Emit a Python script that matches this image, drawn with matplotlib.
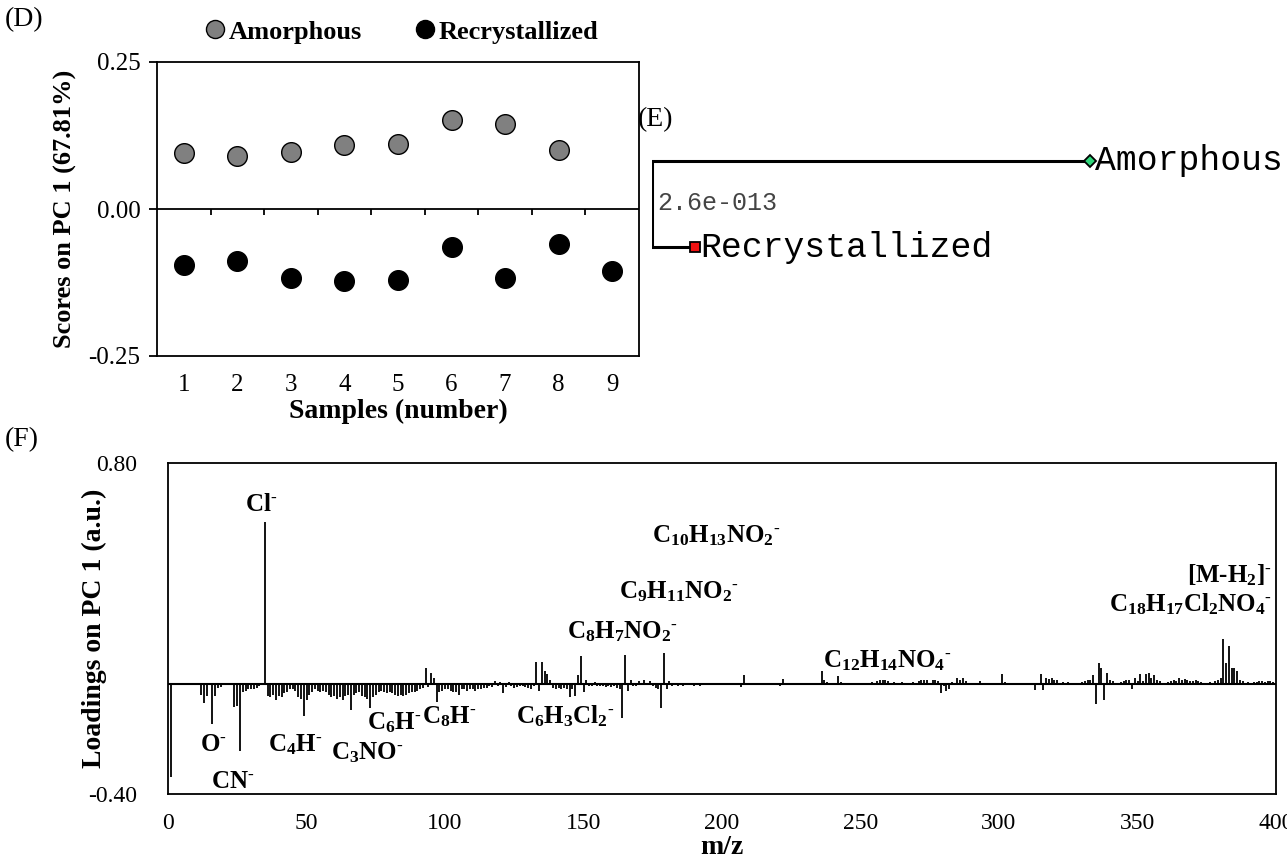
import matplotlib
matplotlib.use("Agg")
import matplotlib.pyplot as plt
from matplotlib.lines import Line2D
import numpy as np

# ---------------- data ----------------
# (D) PC1 scores
samples_amor = [1, 2, 3, 4, 5, 6, 7, 8]
scores_amor = [0.096, 0.090, 0.097, 0.109, 0.110, 0.152, 0.144, 0.101]
samples_recr = [1, 2, 3, 4, 5, 6, 7, 8, 9]
scores_recr = [-0.096, -0.089, -0.117, -0.123, -0.120, -0.065, -0.117, -0.059, -0.106]

# (E) dendrogram
leaf_names = ["Amorphous", "Recrystallized"]
leaf_branch = [1.0, 0.098]
leaf_level = [1, 0]
node_distance = "2.6e-013"

# (F) PC1 loadings, m/z and loading value
mz_low = [1, 12, 13, 14, 16, 17, 18, 19, 24, 25, 26, 27, 28, 29, 30, 31, 32, 33, 35,
          36, 37, 38, 39, 40, 41, 42, 43, 44, 45, 46, 47, 48, 49, 50, 51, 52, 53, 54,
          55, 56, 57, 58, 59, 60, 61, 62, 63, 64, 65, 66]
load_low = [-0.34, -0.04, -0.07, -0.045, -0.145, -0.045, -0.015, -0.012, -0.085, -0.08,
            -0.245, -0.03, -0.025, -0.02, -0.02, -0.02, -0.015, -0.01, 0.585,
            -0.045, -0.05, -0.04, -0.06, -0.045, -0.05, -0.035, -0.03, -0.02, -0.02,
            -0.025, -0.05, -0.055, -0.118, -0.06, -0.04, -0.03, -0.02, -0.025,
            -0.03, -0.025, -0.03, -0.04, -0.05, -0.045, -0.055, -0.05, -0.06, -0.045,
            -0.04, -0.094]

mz_mid = [67, 68, 69, 70, 71, 72, 73, 74, 75, 76, 77, 78, 79, 80, 81, 82, 83, 84, 85,
          86, 87, 88, 89, 90, 91, 92, 93, 94, 95, 96, 97, 98, 99, 100, 101, 102, 103,
          104, 105, 106, 107, 108, 109, 110, 111, 112, 113, 114, 115, 116, 117, 118,
          119, 120, 121, 122, 123, 124, 125, 126, 127, 128, 129, 130, 131, 132, 133,
          134, 135, 136, 137, 138, 139, 140]
load_mid = [-0.04, -0.035, -0.03, -0.045, -0.05, -0.055, -0.09, -0.05, -0.04, -0.03,
            -0.025, -0.03, -0.035, -0.03, -0.035, -0.04, -0.045, -0.04, -0.045,
            -0.04, -0.035, -0.03, -0.03, -0.025, -0.02, -0.015, 0.057, -0.012, 0.04,
            0.02, -0.066, -0.03, -0.025, -0.02, -0.02, -0.025, -0.03,
            -0.03, -0.04, -0.02, -0.02, -0.025, -0.02, -0.02, -0.025, -0.02, -0.02,
            -0.015, -0.015, -0.01, -0.012, 0.008,
            -0.01, 0.006, -0.035, -0.012, 0.006, -0.01, -0.015, -0.012, -0.01, -0.01,
            -0.012, -0.015, -0.02, -0.01, 0.08,
            -0.025, 0.08, 0.045, 0.035, 0.012, -0.015, -0.02]

mz_high = [141, 142, 143, 144, 145, 146, 147, 148, 149, 150, 151, 152, 153, 154, 155,
           156, 157, 158, 159, 160, 161, 162, 163, 164, 165, 166, 167, 168, 169, 170,
           171, 172, 173, 174, 175, 176, 177, 178, 179, 180, 181, 182, 183, 184, 185,
           186, 187, 188, 189, 190, 191, 192, 193, 194, 195, 196, 197, 198, 199, 200,
           202, 204, 206, 207, 208, 210, 212, 214, 216, 218, 220, 221, 222, 224, 226,
           228, 230, 232, 234, 235, 236, 237, 238, 240, 242, 243]
load_high = [-0.015, -0.02, -0.015, -0.02, -0.05, -0.02, -0.045, 0.03, 0.10, -0.03,
             0.015, -0.01, -0.008, 0.006, -0.01,
             -0.008, -0.01, -0.012, -0.01, -0.012, -0.01, -0.015, -0.02, -0.125, 0.105,
             -0.025, 0.015, -0.01, -0.008, 0.01,
             -0.006, 0.012, -0.006, 0.01, -0.008, -0.015, -0.02, -0.088, 0.11, -0.02,
             0.01, -0.008, -0.006, -0.008, -0.006,
             -0.008, -0.006, -0.006, -0.006, -0.008, -0.006, -0.007, -0.006, -0.005,
             -0.006, -0.005, -0.005, -0.006, -0.005, -0.004,
             -0.005, -0.004, -0.005, -0.012, 0.032, -0.005, -0.004, -0.005, -0.004,
             -0.004, -0.005, -0.008, 0.017, -0.004, -0.005,
             -0.004, -0.005, -0.004, -0.005, -0.006, 0.045, 0.012, 0.006, -0.005,
             0.027, 0.006]

mz_top = [245, 248, 250, 252, 254, 256, 257, 258, 259, 260, 262, 263, 265, 267, 269,
          271, 272, 273, 274, 276, 277, 278, 279, 280, 281, 282, 283, 285, 286, 287,
          288, 293, 297, 301, 302, 313, 315, 316, 317, 318, 319, 320, 321, 323, 325,
          330, 331, 332, 333, 334, 335, 336, 337, 338, 339, 340, 341, 344, 345, 346,
          347, 348, 349, 350, 351, 352, 353, 354, 355, 356, 357, 358, 361, 362, 363,
          364, 365, 366, 367, 368, 369, 370, 371, 372, 373, 374, 376, 378, 379, 380,
          381, 382, 383, 384, 385, 386, 387, 388, 390, 392, 393, 394, 395, 396, 397,
          398, 399]
load_top = [-0.004, -0.006, 0.004, -0.004, 0.005, 0.008, 0.012, 0.015, 0.012, 0.01,
            0.006, -0.004, 0.005, -0.004, 0.005,
            0.008, 0.012, 0.015, 0.012, 0.015, 0.012, 0.008, -0.034, -0.01, -0.025,
            -0.02, 0.005, 0.02, 0.015, 0.022,
            0.01, 0.008, 0.004, 0.034, 0.005, -0.023, 0.034, -0.022, 0.022, 0.018,
            0.02, 0.015, 0.012, 0.006, 0.005,
            0.006, 0.008, 0.012, 0.015, 0.03, -0.072, 0.075, 0.055, -0.058, 0.04,
            0.012, 0.01, 0.005, 0.008, 0.012,
            0.015, -0.02, 0.02, 0.01, 0.035, 0.01, 0.035, 0.04, 0.02, 0.03, 0.015,
            0.008, 0.006, 0.01, 0.012,
            0.008, 0.02, 0.015, 0.018, 0.012, 0.01, 0.01, 0.012, 0.008, 0.006, 0.004,
            0.005, 0.008, 0.012, 0.02,
            0.163, 0.075, 0.135, 0.055, 0.057, 0.045, 0.015, 0.008, 0.005, 0.006,
            0.005, 0.008, 0.008, 0.006, 0.008,
            0.01, 0.006]

# peak labels: text, m/z position, loading position, alignment
peak_texts = [r"Cl$^{-}$", r"O$^{-}$", r"CN$^{-}$", r"C$_{4}$H$^{-}$", r"C$_{3}$NO$^{-}$",
              r"C$_{6}$H$^{-}$", r"C$_{8}$H$^{-}$", r"C$_{6}$H$_{3}$Cl$_{2}$$^{-}$",
              r"C$_{8}$H$_{7}$NO$_{2}$$^{-}$", r"C$_{9}$H$_{11}$NO$_{2}$$^{-}$",
              r"C$_{10}$H$_{13}$NO$_{2}$$^{-}$", r"C$_{12}$H$_{14}$NO$_{4}$$^{-}$",
              r"[M-H$_{2}$]$^{-}$", r"C$_{18}$H$_{17}$Cl$_{2}$NO$_{4}$$^{-}$"]
peak_x = [33.5, 16.5, 23.5, 46.0, 72.0, 81.5, 101.5, 143.5, 164.0, 184.5, 198.0, 259.5,
          398.5, 398.5]
peak_y = [0.65, -0.22, -0.355, -0.22, -0.25, -0.14, -0.12, -0.118, 0.19, 0.335, 0.535,
          0.083, 0.395, 0.287]
peak_ha = ["center"] * 12 + ["right", "right"]

# ---------------- style ----------------
plt.rcParams['font.family'] = ['Liberation Serif', 'DejaVu Serif']
plt.rcParams['mathtext.fontset'] = 'custom'
plt.rcParams['mathtext.rm'] = 'Liberation Serif:bold'
plt.rcParams['mathtext.it'] = 'Liberation Serif:italic:bold'
plt.rcParams['mathtext.bf'] = 'Liberation Serif:bold'
plt.rcParams['axes.unicode_minus'] = False
plt.rcParams['axes.linewidth'] = 1.3

W, H = 1287, 867
fig = plt.figure(figsize=(W / 100, H / 100), dpi=100)

# ================= (D) =================
ax_d = fig.add_axes([157 / W, 1 - 356 / H, (639 - 157) / W, (356 - 62) / H])
ax_d.scatter(samples_amor, scores_amor, s=200, c='#808080', edgecolors='black',
             linewidths=1.0, zorder=3)
ax_d.scatter(samples_recr, scores_recr, s=200, c='black', edgecolors='black',
             linewidths=1.0, zorder=3)
ax_d.axhline(0, color='black', lw=1.3)
# category separators on the zero line
ax_d.vlines(np.arange(1.5, 9, 1), -0.011, 0, color='black', lw=1.3)
ax_d.set_xlim(0.5, 9.5)
ax_d.set_ylim(-0.25, 0.25)
ax_d.set_xticks(range(1, 10))
ax_d.set_yticks([-0.25, 0, 0.25])
ax_d.set_yticklabels(['-0.25', '0.00', '0.25'])
ax_d.tick_params(axis='x', length=0, pad=13, labelsize=18)
ax_d.tick_params(axis='y', length=6, width=1.3, direction='out', pad=6, labelsize=18)
ax_d.set_xlabel("Samples (number)", fontsize=20, fontweight='bold')
ax_d.xaxis.set_label_coords(0.5, -0.145)
ax_d.set_ylabel("Scores on PC 1 (67.81%)", fontsize=19, fontweight='bold')
ax_d.yaxis.set_label_coords(-0.165, 0.5)

handles = [Line2D([], [], ls='none', marker='o', ms=13, mfc='#808080', mec='black', mew=1.0),
           Line2D([], [], ls='none', marker='o', ms=13, mfc='black', mec='black', mew=1.0)]
fig.legend(handles, ["Amorphous", "Recrystallized"], loc='center',
           bbox_to_anchor=(400 / W, 1 - 32 / H), ncol=2, frameon=False,
           prop=dict(weight='bold', size=19), handletextpad=0.0, columnspacing=1.9,
           handlelength=1.0)

fig.text(5 / W, 1 - 20 / H, "(D)", fontsize=20, va='center', ha='left')

# ================= (E) =================
ax_e = fig.add_axes([652 / W, 1 - 270 / H, (1287 - 652) / W, 130 / H])
ax_e.set_axis_off()
ax_e.set_xlim(0, 635 / 438)
ax_e.set_ylim(-0.267, 1.244)
ax_e.plot([0, 0], [min(leaf_level), max(leaf_level)], color='black', lw=2.2,
          solid_capstyle='butt')
leaf_marker = ['D', 's']
leaf_color = ['#2fd67a', '#ee1111']
for name, blen, lev, mk, col in zip(leaf_names, leaf_branch, leaf_level, leaf_marker, leaf_color):
    ax_e.plot([0, blen], [lev, lev], color='black', lw=2.2, solid_capstyle='projecting')
    ax_e.plot([blen], [lev], marker=mk, ms=6.5, mfc=col, mec='black', mew=1.3)
    ax_e.annotate(name, (blen, lev), xytext=(3.5, 0), textcoords='offset points',
                  fontsize=25, family='Liberation Mono', va='center', ha='left')
ax_e.text(0.012, 0.51, node_distance, fontsize=18, family='Liberation Mono',
          color='#444444', va='center', ha='left')
fig.text(638 / W, 1 - 120 / H, "(E)", fontsize=20, va='center', ha='left')

# ================= (F) =================
ax_f = fig.add_axes([168 / W, 1 - 794 / H, (1276 - 168) / W, (794 - 463) / H])
mz_all = mz_low + mz_mid + mz_high + mz_top
load_all = load_low + load_mid + load_high + load_top
ax_f.vlines(mz_all, 0, load_all, color='black', lw=1.3)
ax_f.axhline(0, color='black', lw=1.5)
ax_f.set_xlim(0, 400)
ax_f.set_ylim(-0.4, 0.8)
ax_f.set_xticks(range(0, 401, 50))
ax_f.set_yticks([-0.4, 0.8])
ax_f.set_yticklabels(['-0.40', '0.80'])
ax_f.tick_params(axis='both', length=0, labelsize=17)
ax_f.tick_params(axis='x', pad=14)
ax_f.tick_params(axis='y', pad=22)
ax_f.set_xlabel("m/z", fontsize=20, fontweight='bold')
ax_f.xaxis.set_label_coords(0.5, -0.125)
ax_f.set_ylabel("Loadings on PC 1 (a.u.)", fontsize=20, fontweight='bold')
ax_f.yaxis.set_label_coords(-0.055, 0.5)

for txt, px, py, ha in zip(peak_texts, peak_x, peak_y, peak_ha):
    # short hyphen as the charge sign, as in the original figure
    ax_f.text(px, py, txt.replace("^{-}", "^{\u2010}"), fontsize=18, fontweight='bold',
              ha=ha, va='center')

fig.text(5 / W, 1 - 440 / H, "(F)", fontsize=20, va='center', ha='left')

fig.savefig("out.png", dpi=100)
